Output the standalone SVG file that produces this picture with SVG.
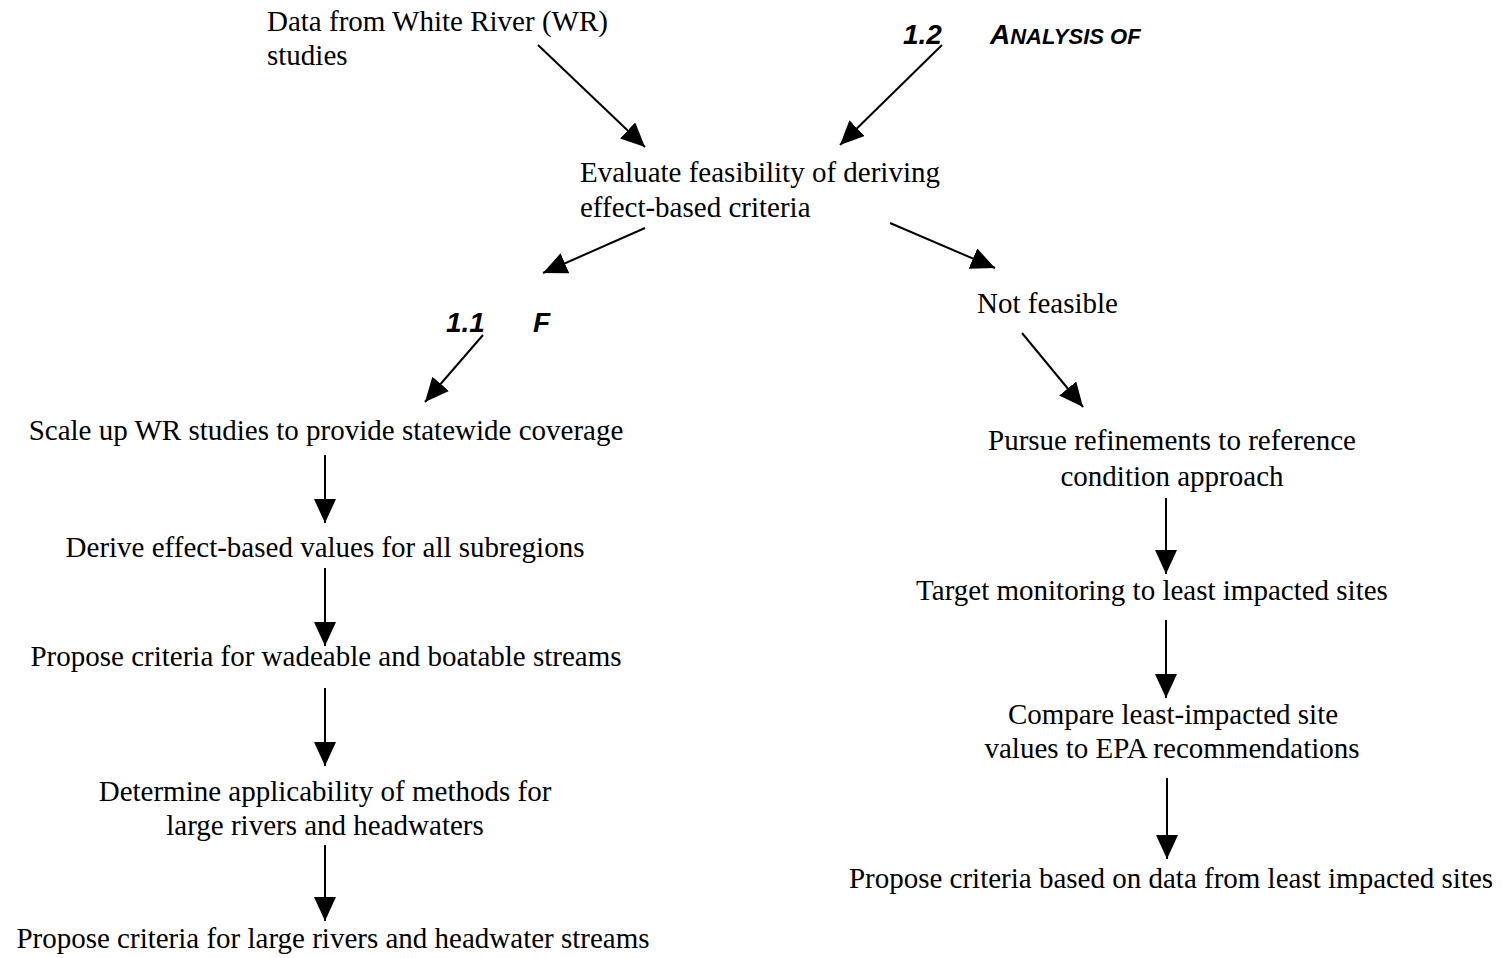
<svg xmlns="http://www.w3.org/2000/svg" width="1505" height="958" viewBox="0 0 1505 958">
<style>
.t{font-family:"Liberation Serif","Times New Roman",serif;font-size:29px;fill:#000}
.m{text-anchor:middle}
.b{font-family:"Liberation Sans",Arial,sans-serif;font-weight:bold;font-style:italic;fill:#000;font-size:28px}
.c{stroke:#000;stroke-width:2;fill:none;marker-end:url(#ah)}
</style>
<defs>
<marker id="ah" markerUnits="userSpaceOnUse" markerWidth="26" markerHeight="22" refX="24" refY="11" orient="auto">
<path d="M0,0 L24,11 L0,22 Z" fill="#000"/>
</marker>
</defs>
<rect width="1505" height="958" fill="#fff"/>
<g id="connectors">
<line class="c" x1="538" y1="45" x2="645" y2="147"/>
<line class="c" x1="942" y1="45" x2="840" y2="145"/>
<line class="c" x1="645" y1="228" x2="543" y2="273"/>
<line class="c" x1="890" y1="223" x2="995" y2="268"/>
<line class="c" x1="483" y1="335" x2="425" y2="402"/>
<line class="c" x1="1022" y1="333" x2="1083" y2="407"/>
<line class="c" x1="325" y1="455" x2="325" y2="523"/>
<line class="c" x1="325" y1="568" x2="325" y2="646"/>
<line class="c" x1="325" y1="688" x2="325" y2="766"/>
<line class="c" x1="325" y1="845" x2="325" y2="921"/>
<line class="c" x1="1166" y1="498" x2="1166" y2="574"/>
<line class="c" x1="1166" y1="620" x2="1166" y2="698"/>
<line class="c" x1="1167" y1="778" x2="1167" y2="859"/>
</g>
<g id="n-data"><text class="t" x="267" y="31">Data from White River (WR)</text><text class="t" x="267" y="65">studies</text></g>
<g id="n-analysis"><text class="b" x="903" y="44">1.2</text><text class="b" x="990" y="44">A<tspan font-size="22">NALYSIS OF</tspan></text></g>
<g id="n-evaluate"><text class="t" x="580" y="182">Evaluate feasibility of deriving</text><text class="t" x="580" y="217">effect-based criteria</text></g>
<g id="n-feasible"><text class="b" x="446" y="332">1.1</text><text class="b" x="533" y="332">F</text></g>
<g id="n-notfeasible"><text class="t" x="977" y="313">Not feasible</text></g>
<g id="n-scale"><text class="t m" x="326" y="440">Scale up WR studies to provide statewide coverage</text></g>
<g id="n-derive"><text class="t m" x="325" y="557">Derive effect-based values for all subregions</text></g>
<g id="n-propose1"><text class="t m" x="326" y="666">Propose criteria for wadeable and boatable streams</text></g>
<g id="n-determine"><text class="t m" x="325" y="801">Determine applicability of methods for</text><text class="t m" x="325" y="835">large rivers and headwaters</text></g>
<g id="n-propose2"><text class="t m" x="333" y="948">Propose criteria for large rivers and headwater streams</text></g>
<g id="n-pursue"><text class="t m" x="1172" y="450">Pursue refinements to reference</text><text class="t m" x="1172" y="486">condition approach</text></g>
<g id="n-target"><text class="t m" x="1152" y="600">Target monitoring to least impacted sites</text></g>
<g id="n-compare"><text class="t m" x="1173" y="724">Compare least-impacted site</text><text class="t m" x="1172" y="758">values to EPA recommendations</text></g>
<g id="n-propose3"><text class="t m" x="1171" y="888">Propose criteria based on data from least impacted sites</text></g>
</svg>
